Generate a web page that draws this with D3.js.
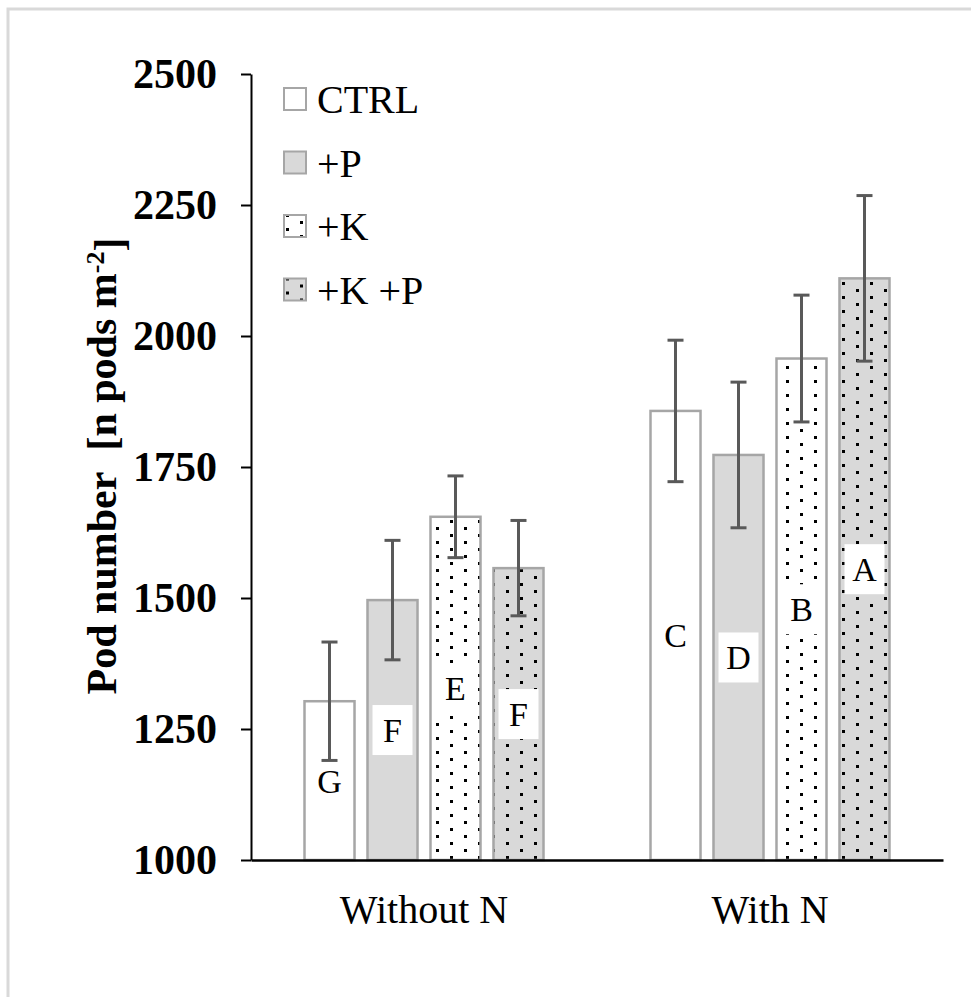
<!DOCTYPE html>
<html>
<head>
<meta charset="utf-8">
<script src="https://cdnjs.cloudflare.com/ajax/libs/d3/7.8.5/d3.min.js"></script>
<style>
  body { margin: 0; background: #fff; }
  svg { display: block; }
  svg text { font-family: "Times New Roman", "Liberation Serif", Times, "DejaVu Serif", serif; fill: #000; }
</style>
</head>
<body>
<div id="chart"></div>
<script>
var groups = ["Without N", "With N"];
var series = ["CTRL", "+P", "+K", "+K +P"];
var meanWithoutN = [1303, 1496, 1655, 1557];
var meanWithN = [1857, 1773, 1957, 2110];
var errWithoutN = [113, 114, 78, 91];
var errWithN = [135, 139, 121, 158];
var lettersWithoutN = ["G", "F", "E", "F"];
var lettersWithN = ["C", "D", "B", "A"];
var yTicks = [1000, 1250, 1500, 1750, 2000, 2250, 2500];

var serif = "'Times New Roman', 'Liberation Serif', Times, serif";
var W = 971, H = 997;
var plotLeft = 251, plotRight = 943, plotTop = 74, plotBottom = 860;

var svg = d3.select("#chart").append("svg")
  .attr("width", W)
  .attr("height", H);

// patterns
var defs = svg.append("defs");
function dots(id, bg) {
  var p = defs.append("pattern")
    .attr("id", id)
    .attr("patternUnits", "userSpaceOnUse")
    .attr("width", 28).attr("height", 14);
  p.append("rect").attr("width", 28).attr("height", 14).attr("fill", bg);
  p.append("rect").attr("x", 2).attr("y", 2).attr("width", 3).attr("height", 3).attr("fill", "#000");
  p.append("rect").attr("x", 16).attr("y", 9).attr("width", 3).attr("height", 3).attr("fill", "#000");
}
dots("dotWhite", "#fff");
dots("dotGrey", "#d9d9d9");
var fills = {"CTRL": "#fff", "+P": "#d9d9d9", "+K": "url(#dotWhite)", "+K +P": "url(#dotGrey)"};

// frame
svg.append("path")
  .attr("d", "M8," + H + "V9H" + W)
  .attr("fill", "none")
  .attr("stroke", "#d9d9d9")
  .attr("stroke-width", 3);

// data table
var data = [];
groups.forEach(function(g, gi) {
  var means = gi == 0 ? meanWithoutN : meanWithN;
  var errs = gi == 0 ? errWithoutN : errWithN;
  var letters = gi == 0 ? lettersWithoutN : lettersWithN;
  series.forEach(function(s, si) {
    data.push({group: g, series: s, value: means[si], err: errs[si], letter: letters[si]});
  });
});

// scales
var x0 = d3.scaleBand().domain(groups).range([plotLeft, plotRight]);
var x1 = d3.scaleBand().domain(series).range([0, 239]).paddingInner(0.206);
var y = d3.scaleLinear().domain([1000, 2500]).range([plotBottom, plotTop]);

function barX(d) { return x0(d.group) + x0.bandwidth() / 2 - 119.5 + x1(d.series); }

// bars
svg.append("g").selectAll("rect")
  .data(data).enter().append("rect")
  .attr("x", function(d) { return barX(d); })
  .attr("y", function(d) { return y(d.value); })
  .attr("width", x1.bandwidth())
  .attr("height", function(d) { return y(1000) - y(d.value); })
  .attr("fill", function(d) { return fills[d.series]; })
  .attr("stroke", "#a6a6a6")
  .attr("stroke-width", 2.5);

// letter labels
var lab = svg.append("g").selectAll("g")
  .data(data).enter().append("g")
  .attr("transform", function(d) {
    return "translate(" + (barX(d) + x1.bandwidth() / 2) + "," + ((y(d.value) + y(1000)) / 2) + ")";
  });
lab.append("rect")
  .attr("x", -20).attr("y", -25)
  .attr("width", 40).attr("height", 50)
  .attr("fill", "#fff");
lab.append("text")
  .attr("text-anchor", "middle")
  .attr("dy", "0.35em")
  .style("font-family", serif)
  .style("font-size", "34px")
  .text(function(d) { return d.letter; });

// error bars
var eb = svg.append("g").attr("stroke", "#595959").attr("stroke-width", 3);
data.forEach(function(d) {
  var cx = barX(d) + x1.bandwidth() / 2;
  eb.append("line").attr("x1", cx).attr("x2", cx)
    .attr("y1", y(d.value + d.err)).attr("y2", y(d.value - d.err));
  [d.value + d.err, d.value - d.err].forEach(function(v) {
    eb.append("line").attr("x1", cx - 8).attr("x2", cx + 8)
      .attr("y1", y(v)).attr("y2", y(v));
  });
});

// y axis
var yAxis = svg.append("g")
  .attr("transform", "translate(" + plotLeft + ",0)")
  .call(d3.axisLeft(y).tickValues(yTicks).tickSize(10).tickSizeOuter(0).tickPadding(24).tickFormat(d3.format("d")));
yAxis.attr("font-family", null);
yAxis.selectAll("path, line").attr("stroke", "#000").attr("stroke-width", 2);
yAxis.selectAll("text")
  .style("font-family", serif)
  .style("font-size", "42px")
  .style("font-weight", "bold");

// x axis
var xAxis = svg.append("g")
  .attr("transform", "translate(0," + plotBottom + ")")
  .call(d3.axisBottom(x0).tickSize(0).tickSizeOuter(0).tickPadding(35));
xAxis.attr("font-family", null);
xAxis.select(".domain").attr("stroke", "#000").attr("stroke-width", 2.5);
xAxis.selectAll("text")
  .style("font-family", serif)
  .style("font-size", "40px");

// y title
var title = svg.append("text")
  .attr("transform", "translate(116,466) rotate(-90)")
  .attr("text-anchor", "middle")
  .style("font-family", serif)
  .style("font-size", "42px")
  .style("font-weight", "bold");
title.append("tspan").text("Pod number\u00a0 [n pods m");
title.append("tspan").attr("dy", "-0.45em").style("font-size", "26px").text("-2");
title.append("tspan").attr("dy", "0.45em").text("]");

// legend
var leg = svg.append("g").selectAll("g")
  .data(series).enter().append("g")
  .attr("transform", function(d, i) { return "translate(284," + (99 + i * 63.5) + ")"; });
leg.append("rect")
  .attr("x", 0).attr("y", -11)
  .attr("width", 22).attr("height", 22)
  .attr("fill", function(d) { return fills[d]; })
  .attr("stroke", "#a6a6a6")
  .attr("stroke-width", 2);
leg.append("text")
  .attr("x", 33)
  .attr("dy", "0.35em")
  .style("font-family", serif)
  .style("font-size", "40px")
  .text(function(d) { return d; });
</script>
</body>
</html>
